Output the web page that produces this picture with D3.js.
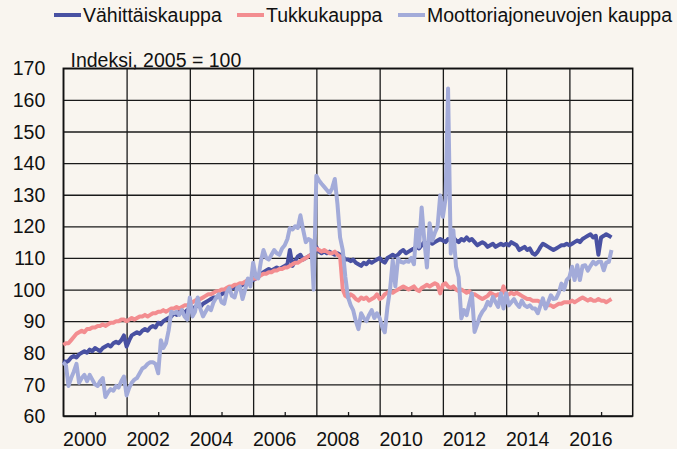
<!DOCTYPE html>
<html>
<head>
<meta charset="utf-8">
<script src="https://cdn.jsdelivr.net/npm/d3@7"></script>
<style>
  html, body { margin: 0; padding: 0; background: #f9f5ef; }
  svg { display: block; font-family: Arial, "Liberation Sans", sans-serif; }
</style>
</head>
<body>
<svg id="chart" width="677" height="449"></svg>
<script>
// Monthly index values, Jan 2000 - May 2017 (2005 = 100)
const seriesNames = ['Vähittäiskauppa', 'Tukkukauppa', 'Moottoriajoneuvojen kauppa'];
const seriesColors = ['#4951a2', '#f38d90', '#a3abd9'];

const retail = [
  77.5, 77, 77.5, 78.5, 79, 78.5, 79.5, 80, 80.5, 80, 81, 80.5,
  81.5, 81, 80.5, 81.5, 82, 82.5, 82, 83, 83.5, 83, 84, 85.5,
  82, 84, 85.5, 86, 86.5, 86, 87, 87.5, 87, 88, 88.5, 88,
  89.5, 89, 90, 90.5, 91, 91.5, 92.5, 92, 93, 93.5, 92.5, 93.5,
  94, 93, 94.5, 95, 94.5, 95.5, 96, 96.5, 97, 97.5, 97.5, 98,
  98.5, 99, 99.5, 100, 100.5, 100.5, 101, 101, 101.5, 102, 102, 102.5,
  103, 103.5, 104, 105, 105.5, 106, 106.5, 106, 106.5, 107, 106.5, 107,
  107.5, 108, 112.5, 107.5, 109, 110.5, 111, 109.5, 110, 110.5, 111, 112,
  113.5, 112, 111.5, 112, 111.5, 112, 111.5, 111, 111.5, 111, 110.5, 109.5,
  109.5, 109, 109.5, 108.5, 108, 107.5, 108.5, 108, 109, 108.5, 109, 109.5,
  110, 109, 108.5, 110, 110.5, 111, 110.5, 111, 112, 112.5, 111.5, 112,
  112.5, 113, 113.5, 113, 114, 115, 114.5, 115, 114.5, 115, 115.5, 116,
  115.5, 115, 116, 115.5, 116.5, 115.5, 115, 116, 115.5, 116.5, 115.5, 116,
  115, 114, 114.5, 115, 114.5, 113.5, 114, 114.5, 113.5, 114, 114.5, 114,
  114.5, 114, 115, 114.5, 114, 112.5, 113, 113.5, 112.5, 113, 111.5, 111,
  112, 113.5, 114.5, 114, 113.5, 113, 112.5, 113, 113.5, 114, 114, 114.5,
  114, 114.5, 115, 115.5, 115, 116, 116.5, 117, 117.5, 116.5, 117, 111,
  116.5, 117, 117.5, 117, 116.5
];

const wholesale = [
  82.5, 83, 83, 84, 85, 86, 86.5, 87, 86.5, 87.5, 87.5, 88,
  88, 88.5, 88.5, 89, 88.5, 89, 89.5, 89.5, 90, 90, 90.5, 90.5,
  90, 90.5, 91, 90.5, 91, 91.5, 91.5, 92, 91.5, 92, 92.5, 92.5,
  93, 93, 93.5, 93, 93.5, 94, 94, 94.5, 94, 94.5, 95, 95,
  95.5, 96, 96.5, 97, 97, 97.5, 98, 98.5, 98.5, 99, 99.5, 99.5,
  100, 100, 100.5, 101, 101, 101.5, 101.5, 102, 102, 102.5, 103, 103,
  103.5, 103.5, 104, 104.5, 105, 105, 105.5, 105.5, 106, 106, 106.5, 106.5,
  107, 107, 107.5, 108, 108.5, 108.5, 109, 109.5, 110, 110.5, 111, 112,
  113, 112.5, 112, 112.5, 112, 111.5, 111.5, 112, 111, 110.5, 100, 98,
  97.5, 98.5, 98, 97, 96.5, 97.5, 97, 97.5, 96.5, 97, 97.5, 98.5,
  97, 97.5, 98.5, 99, 99.5, 99, 99.5, 100, 100.5, 101, 100.5, 100,
  100.5, 101, 100, 99.5, 100.5, 101, 101.5, 101, 101.5, 102, 101.5, 98.8,
  101.5, 102, 101, 100.5, 101, 100, 99.5, 100, 99.5, 99, 99.5, 98.5,
  98.5, 98, 97.5, 97, 97.5, 98, 99, 98.5, 98, 98.5, 98, 101,
  98, 98.5, 99, 98.5, 99, 98.5, 98, 97.5, 97, 97, 96.5, 96.5,
  96.5, 96, 95.5, 95.5, 95, 95, 94.5, 95, 95.5, 95.5, 96, 96,
  96, 96.5, 96, 96.5, 97, 97.5, 97, 96.5, 97, 96.5, 96.5, 97,
  96.5, 96.5, 96, 96.5, 97
];

const motor = [
  77, 76, 69.5, 72, 74, 76.5, 70.5, 72, 73, 71, 73, 71.5,
  70, 69.5, 71, 72, 66, 67.5, 68.5, 68, 69.5, 69, 71, 72.5,
  66.5, 69, 70.5, 71.5, 72, 73.5, 75, 75.5, 76.5, 77, 77, 76.5,
  73.5, 84, 81.5, 83, 87, 93, 92.5, 93, 92, 93.5, 91.5, 90.5,
  97.5, 91.5, 93, 97.5, 94, 91.5, 93, 94.5, 93.5, 96, 97.5, 98.5,
  96, 95.5, 99, 100.5, 98, 97.5, 100.5, 101, 97, 100, 103.5, 101,
  108.5, 104, 103.5, 109, 112.5, 110, 109.5, 111, 112.5, 111.5, 111, 113,
  114, 116, 119.5, 119, 120, 119.5, 123.5, 119, 115, 116, 115.5, 100,
  136, 134.5, 133.5, 132.5, 131.5, 130.5, 132, 135, 127, 116.5, 112.5, 104,
  97.5, 95, 93.5, 90, 87.5, 92.5, 91, 90, 92, 93.5, 91, 92.5,
  91, 88, 86.5, 94.5, 100, 109.3, 101, 109.8, 108.8, 108.5, 109, 108.8,
  110, 108, 119, 113.5, 126, 115.5, 107, 121, 115.5, 118, 120, 129.8,
  123, 128.8, 163.6, 111.4, 118.8, 107.2, 104, 90.9, 93.5, 91.9, 95.5, 98.8,
  86.6, 89, 91.4, 93, 94, 96.1, 95, 97.7, 96, 94.5, 98.8, 94,
  98.8, 95, 96, 97, 95.5, 94.5, 96.5, 95, 94.5, 95, 94, 94,
  92.5, 95, 97.2, 94, 96, 98.2, 97, 97.2, 99, 101.9, 100, 103,
  104, 107.2, 103, 107.7, 103, 107.5, 107.7, 106, 107.5, 108.8, 108, 108.8,
  108.8, 106.1, 108.5, 108.8, 112.5
];

const yTicks = [60, 70, 80, 90, 100, 110, 120, 130, 140, 150, 160, 170];
const yearTicks = [2000, 2002, 2004, 2006, 2008, 2010, 2012, 2014, 2016];
const oddYears = [2001, 2003, 2005, 2007, 2009, 2011, 2013, 2015, 2017];
const unitLabel = 'Indeksi, 2005 = 100';

const months = d3.utcMonths(new Date(Date.UTC(2000, 0, 1)), new Date(Date.UTC(2017, 5, 1)));
const allSeries = [retail, wholesale, motor];

const svg = d3.select('#chart');
const margin = { left: 63.3, right: 44.3, top: 68.3, bottom: 33 };
const width = 677, height = 449;
const innerW = width - margin.left - margin.right;
const innerH = height - margin.top - margin.bottom;

const x = d3.scaleUtc()
  .domain([new Date(Date.UTC(2000, 0, 1)), new Date(Date.UTC(2018, 0, 1))])
  .range([0, innerW]);
const y = d3.scaleLinear().domain([60, 170]).range([innerH, 0]);
const yr = d => new Date(Date.UTC(d, 0, 1));

const g = svg.append('g').attr('transform', `translate(${margin.left},${margin.top})`);

// horizontal gridlines + y labels
const yAxis = g.append('g')
  .call(d3.axisLeft(y).tickValues(yTicks).tickSize(-innerW).tickPadding(18));
yAxis.select('.domain').remove();
yAxis.selectAll('line').attr('stroke', '#1a1a1a').attr('stroke-width', 1.3);
yAxis.selectAll('text')
  .attr('font-size', 19.5).attr('fill', '#111').attr('dy', '0.34em')
  .attr('font-family', 'Arial, "Liberation Sans", sans-serif');

// vertical gridlines + year labels
const xAxis = g.append('g')
  .attr('transform', `translate(0,${innerH})`)
  .call(d3.axisBottom(x).tickValues(yearTicks.map(yr)).tickSize(-innerH)
    .tickFormat(d3.utcFormat('%Y')));
xAxis.select('.domain').remove();
xAxis.selectAll('line').attr('stroke', '#1a1a1a').attr('stroke-width', 1.3);
xAxis.selectAll('text')
  .attr('font-size', 19.5).attr('fill', '#111')
  .attr('x', 21).attr('y', 30).attr('dy', 0)
  .attr('font-family', 'Arial, "Liberation Sans", sans-serif');

// minor ticks on odd years, pointing up
const minor = g.append('g')
  .attr('transform', `translate(0,${innerH})`)
  .call(d3.axisBottom(x).tickValues(oddYears.map(yr)).tickSize(-4).tickFormat(''));
minor.select('.domain').remove();
minor.selectAll('line').attr('stroke', '#1a1a1a').attr('stroke-width', 1.3);

// frame
g.append('rect')
  .attr('width', innerW).attr('height', innerH)
  .attr('fill', 'none').attr('stroke', '#111').attr('stroke-width', 1.5);

// lines
const line = d3.line()
  .x((d, i) => x(months[i]))
  .y(d => y(d));

allSeries.forEach((s, k) => {
  g.append('path')
    .datum(s)
    .attr('fill', 'none')
    .attr('stroke', seriesColors[k])
    .attr('stroke-width', 4)
    .attr('stroke-linejoin', 'round')
    .attr('d', line);
});

// unit label
svg.append('text')
  .attr('x', 70.5).attr('y', 66.5)
  .attr('font-size', 19.5).attr('fill', '#111')
  .text(unitLabel);

// legend
const legendX = [54, 237, 398];
const legend = svg.append('g');
seriesNames.forEach((name, k) => {
  legend.append('line')
    .attr('x1', legendX[k]).attr('x2', legendX[k] + 27)
    .attr('y1', 15).attr('y2', 15)
    .attr('stroke', seriesColors[k]).attr('stroke-width', 4);
  legend.append('text')
    .attr('x', legendX[k] + 29).attr('y', 21.5)
    .attr('font-size', 19.5).attr('fill', '#111')
    .text(name);
});
</script>
</body>
</html>
